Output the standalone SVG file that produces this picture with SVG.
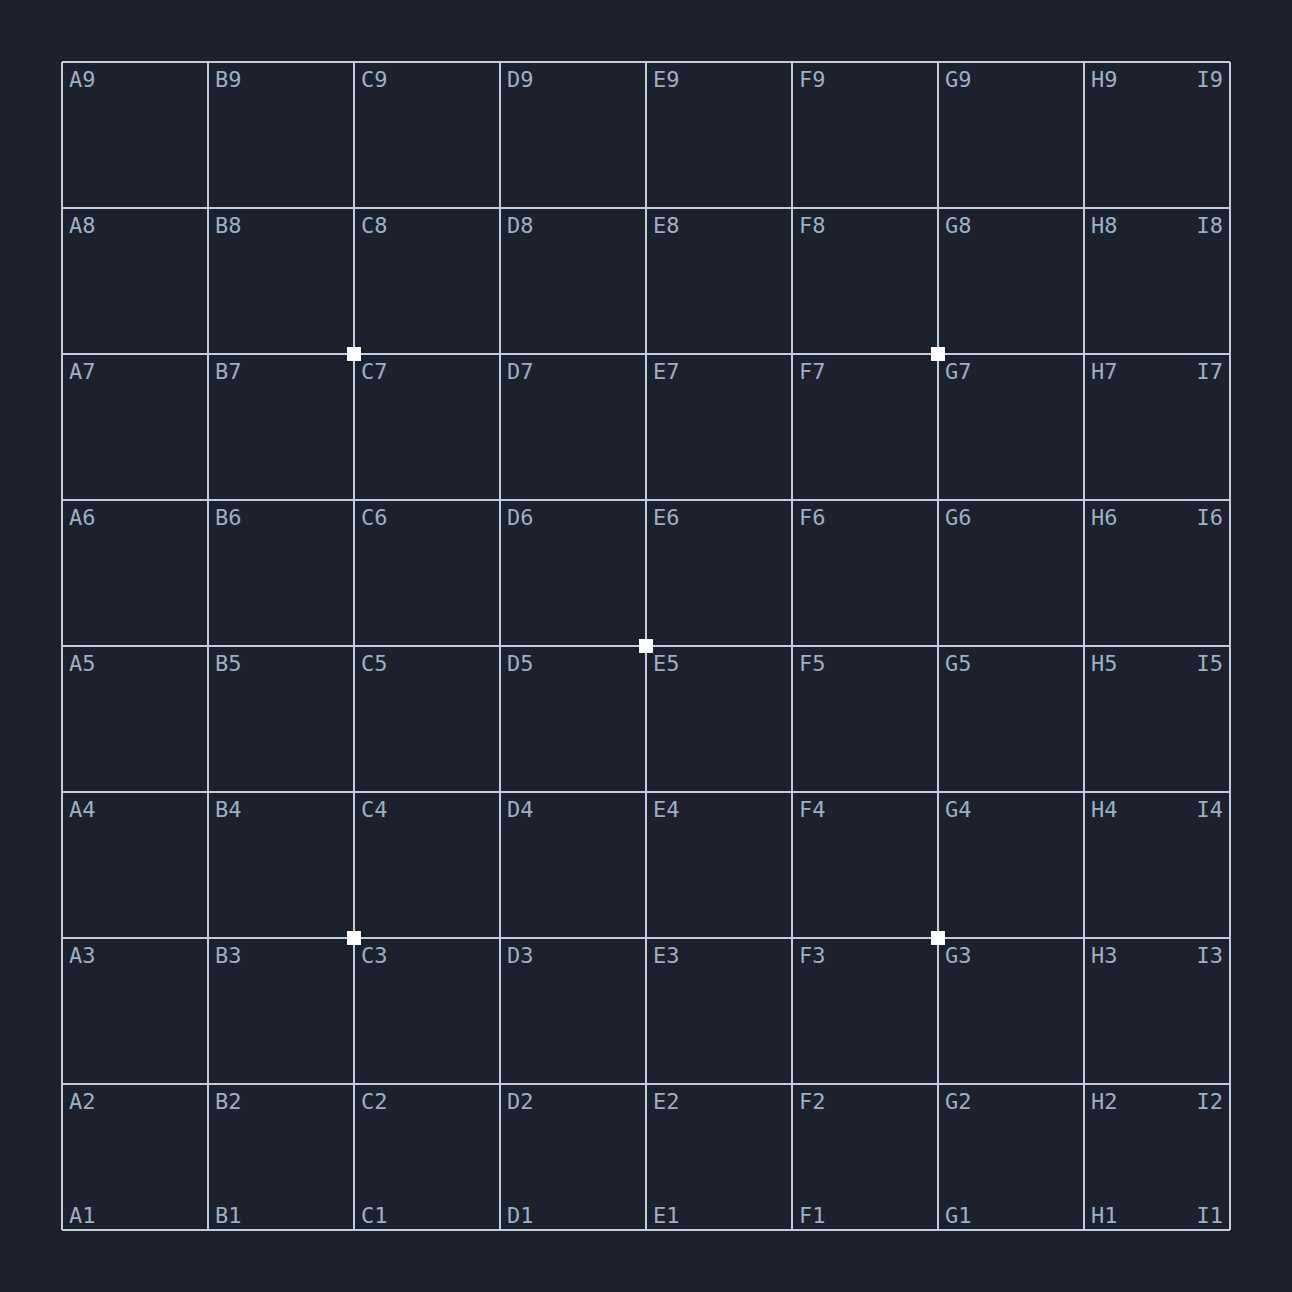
<svg xmlns="http://www.w3.org/2000/svg" width="1292" height="1292" viewBox="0 0 1292 1292">
<style>
.g{stroke:#c0cddb;stroke-width:2;fill:none}
.t{font-family:"DejaVu Sans Mono","Liberation Mono",monospace;font-size:22px;fill:#9dafc3}
.e{text-anchor:end}
.s{fill:#ffffff}
</style>
<rect width="1292" height="1292" fill="#1b212d"/>
<g id="connectors">
<path class="g" d="M62 62H1230M62 208H1230M62 354H1230M62 500H1230M62 646H1230M62 792H1230M62 938H1230M62 1084H1230M62 1230H1230M62 62V1230M208 62V1230M354 62V1230M500 62V1230M646 62V1230M792 62V1230M938 62V1230M1084 62V1230M1230 62V1230"/>
</g>
<g id="stars">
<rect class="s" x="347" y="347" width="14" height="14"/>
<rect class="s" x="931" y="347" width="14" height="14"/>
<rect class="s" x="639" y="639" width="14" height="14"/>
<rect class="s" x="347" y="931" width="14" height="14"/>
<rect class="s" x="931" y="931" width="14" height="14"/>
</g>
<g id="labels" class="t">
<text x="69" y="87">A9</text><text x="215" y="87">B9</text><text x="361" y="87">C9</text><text x="507" y="87">D9</text><text x="653" y="87">E9</text><text x="799" y="87">F9</text><text x="945" y="87">G9</text><text x="1091" y="87">H9</text><text class="e" x="1223" y="87">I9</text>
<text x="69" y="233">A8</text><text x="215" y="233">B8</text><text x="361" y="233">C8</text><text x="507" y="233">D8</text><text x="653" y="233">E8</text><text x="799" y="233">F8</text><text x="945" y="233">G8</text><text x="1091" y="233">H8</text><text class="e" x="1223" y="233">I8</text>
<text x="69" y="379">A7</text><text x="215" y="379">B7</text><text x="361" y="379">C7</text><text x="507" y="379">D7</text><text x="653" y="379">E7</text><text x="799" y="379">F7</text><text x="945" y="379">G7</text><text x="1091" y="379">H7</text><text class="e" x="1223" y="379">I7</text>
<text x="69" y="525">A6</text><text x="215" y="525">B6</text><text x="361" y="525">C6</text><text x="507" y="525">D6</text><text x="653" y="525">E6</text><text x="799" y="525">F6</text><text x="945" y="525">G6</text><text x="1091" y="525">H6</text><text class="e" x="1223" y="525">I6</text>
<text x="69" y="671">A5</text><text x="215" y="671">B5</text><text x="361" y="671">C5</text><text x="507" y="671">D5</text><text x="653" y="671">E5</text><text x="799" y="671">F5</text><text x="945" y="671">G5</text><text x="1091" y="671">H5</text><text class="e" x="1223" y="671">I5</text>
<text x="69" y="817">A4</text><text x="215" y="817">B4</text><text x="361" y="817">C4</text><text x="507" y="817">D4</text><text x="653" y="817">E4</text><text x="799" y="817">F4</text><text x="945" y="817">G4</text><text x="1091" y="817">H4</text><text class="e" x="1223" y="817">I4</text>
<text x="69" y="963">A3</text><text x="215" y="963">B3</text><text x="361" y="963">C3</text><text x="507" y="963">D3</text><text x="653" y="963">E3</text><text x="799" y="963">F3</text><text x="945" y="963">G3</text><text x="1091" y="963">H3</text><text class="e" x="1223" y="963">I3</text>
<text x="69" y="1109">A2</text><text x="215" y="1109">B2</text><text x="361" y="1109">C2</text><text x="507" y="1109">D2</text><text x="653" y="1109">E2</text><text x="799" y="1109">F2</text><text x="945" y="1109">G2</text><text x="1091" y="1109">H2</text><text class="e" x="1223" y="1109">I2</text>
<text x="69" y="1223">A1</text><text x="215" y="1223">B1</text><text x="361" y="1223">C1</text><text x="507" y="1223">D1</text><text x="653" y="1223">E1</text><text x="799" y="1223">F1</text><text x="945" y="1223">G1</text><text x="1091" y="1223">H1</text><text class="e" x="1223" y="1223">I1</text>
</g>
</svg>
